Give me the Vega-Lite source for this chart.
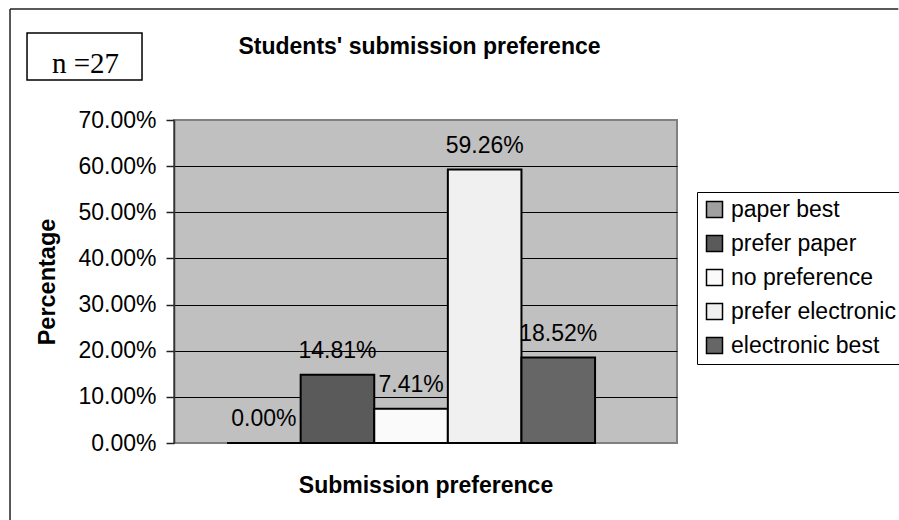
{
  "$schema": "https://vega.github.io/schema/vega-lite/v6.json",
  "width": 503,
  "height": 323,
  "autosize": {"type": "none"},
  "padding": {"left": 174, "top": 120, "right": 222, "bottom": 77},
  "background": "white",
  "title": {
    "text": "Students' submission preference",
    "frame": "group",
    "anchor": "middle",
    "baseline": "middle",
    "dx": -6,
    "offset": -62,
    "font": "Liberation Sans",
    "fontSize": 23,
    "fontWeight": "bold",
    "color": "black"
  },
  "config": {
    "view": {"fill": "#C0C0C0", "stroke": "#808080", "strokeWidth": 2},
    "font": "Liberation Sans"
  },
  "datasets": {
    "responses": [
      {"response": "paper best", "share": 0},
      {"response": "prefer paper", "share": 0.1481},
      {"response": "no preference", "share": 0.0741},
      {"response": "prefer electronic", "share": 0.5926},
      {"response": "electronic best", "share": 0.1852}
    ],
    "note": [{"label": "n =27"}]
  },
  "layer": [
    {
      "data": {"name": "note"},
      "layer": [
        {
          "mark": {"type": "rule", "stroke": "#222222", "strokeWidth": 1.5, "clip": false},
          "encoding": {
            "x": {"datum": -0.326, "type": "quantitative", "scale": {"domain": [0, 1], "nice": false, "zero": false}, "axis": null},
            "x2": {"datum": 1.44},
            "y": {"datum": 0.9406, "type": "quantitative", "axis": null}
          }
        },
        {
          "mark": {"type": "rule", "stroke": "#222222", "strokeWidth": 1.5, "clip": false},
          "encoding": {
            "x": {"datum": -0.326, "type": "quantitative", "axis": null},
            "y": {"datum": 0.9406, "type": "quantitative", "axis": null},
            "y2": {"datum": -0.17}
          }
        }
      ]
    },
    {
      "data": {"name": "responses"},
      "layer": [
        {
          "mark": {"type": "bar", "stroke": "black", "strokeWidth": 2, "strokeJoin": "miter"},
          "encoding": {
            "x": {
              "field": "response",
              "type": "nominal",
              "sort": ["paper best", "prefer paper", "no preference", "prefer electronic", "electronic best"],
              "scale": {"paddingInner": 0, "paddingOuter": 0.917, "align": 0.393},
              "axis": {
                "title": "Submission preference",
                "labels": false,
                "ticks": false,
                "domain": false,
                "grid": false,
                "titleFont": "Liberation Sans",
                "titleFontSize": 23,
                "titleFontWeight": "bold",
                "titleColor": "black",
                "titleX": 251.5,
                "titleY": 42,
                "titleBaseline": "middle",
                "titleAlign": "center"
              }
            },
            "y": {
              "field": "share",
              "type": "quantitative",
              "scale": {"domain": [0, 0.7], "nice": false, "zero": true},
              "axis": {
                "title": "Percentage",
                "values": [0, 0.1, 0.2, 0.3, 0.4, 0.5, 0.6, 0.7],
                "format": ".2%",
                "labelFont": "Liberation Sans",
                "labelFontSize": 23,
                "labelColor": "black",
                "labelPadding": 10,
                "tickSize": 8,
                "tickColor": "#222222",
                "tickWidth": 1.5,
                "domainColor": "#333333",
                "domainWidth": 1.5,
                "grid": true,
                "gridColor": "black",
                "gridWidth": 1,
                "gridOpacity": {"condition": {"test": "datum.value < 0.05 || datum.value > 0.65", "value": 0}, "value": 1},
                "titleFont": "Liberation Sans",
                "titleFontSize": 23.5,
                "titleFontWeight": "bold",
                "titleColor": "black",
                "titleAngle": 270,
                "titleX": -127,
                "titleY": 161.5,
                "titleAlign": "center",
                "titleBaseline": "middle"
              }
            },
            "color": {
              "field": "response",
              "type": "nominal",
              "scale": {
                "domain": ["paper best", "prefer paper", "no preference", "prefer electronic", "electronic best"],
                "range": ["#A0A0A0", "#5A5A5A", "#FAFAFA", "#F0F0F0", "#666666"]
              },
              "legend": {
                "title": null,
                "orient": "none",
                "legendX": 523,
                "legendY": 72,
                "fillColor": "white",
                "strokeColor": "black",
                "padding": 6,
                "symbolType": "square",
                "symbolSize": 256,
                "symbolStrokeColor": "black",
                "symbolStrokeWidth": 1.5,
                "symbolOpacity": 1,
                "labelFont": "Liberation Sans",
                "labelFontSize": 23,
                "labelColor": "black",
                "labelOffset": 5,
                "labelLimit": 300,
                "rowPadding": 10
              }
            }
          }
        },
        {
          "mark": {"type": "text", "baseline": "middle", "align": "center", "dy": -24, "font": "Liberation Sans", "fontSize": 23, "color": "black"},
          "encoding": {
            "x": {"field": "response", "type": "nominal", "sort": ["paper best", "prefer paper", "no preference", "prefer electronic", "electronic best"]},
            "y": {"field": "share", "type": "quantitative"},
            "text": {"field": "share", "type": "quantitative", "format": ".2%"}
          }
        }
      ]
    },
    {
      "data": {"name": "note"},
      "layer": [
        {
          "mark": {"type": "rect", "fill": "white", "stroke": "black", "strokeWidth": 1.5, "clip": false},
          "encoding": {
            "x": {"datum": -0.2922, "type": "quantitative", "scale": {"domain": [0, 1], "nice": false, "zero": false}, "axis": null},
            "x2": {"datum": -0.0636},
            "y": {"datum": 0.8885, "type": "quantitative", "axis": null},
            "y2": {"datum": 0.7867}
          }
        },
        {
          "mark": {"type": "text", "font": "Liberation Serif", "fontSize": 29, "color": "black", "align": "center", "baseline": "alphabetic", "clip": false},
          "encoding": {
            "x": {"datum": -0.1759, "type": "quantitative", "axis": null},
            "y": {"datum": 0.8019, "type": "quantitative", "axis": null},
            "text": {"field": "label"}
          }
        }
      ]
    }
  ],
  "resolve": {"scale": {"x": "independent"}, "axis": {"y": "independent"}}
}
